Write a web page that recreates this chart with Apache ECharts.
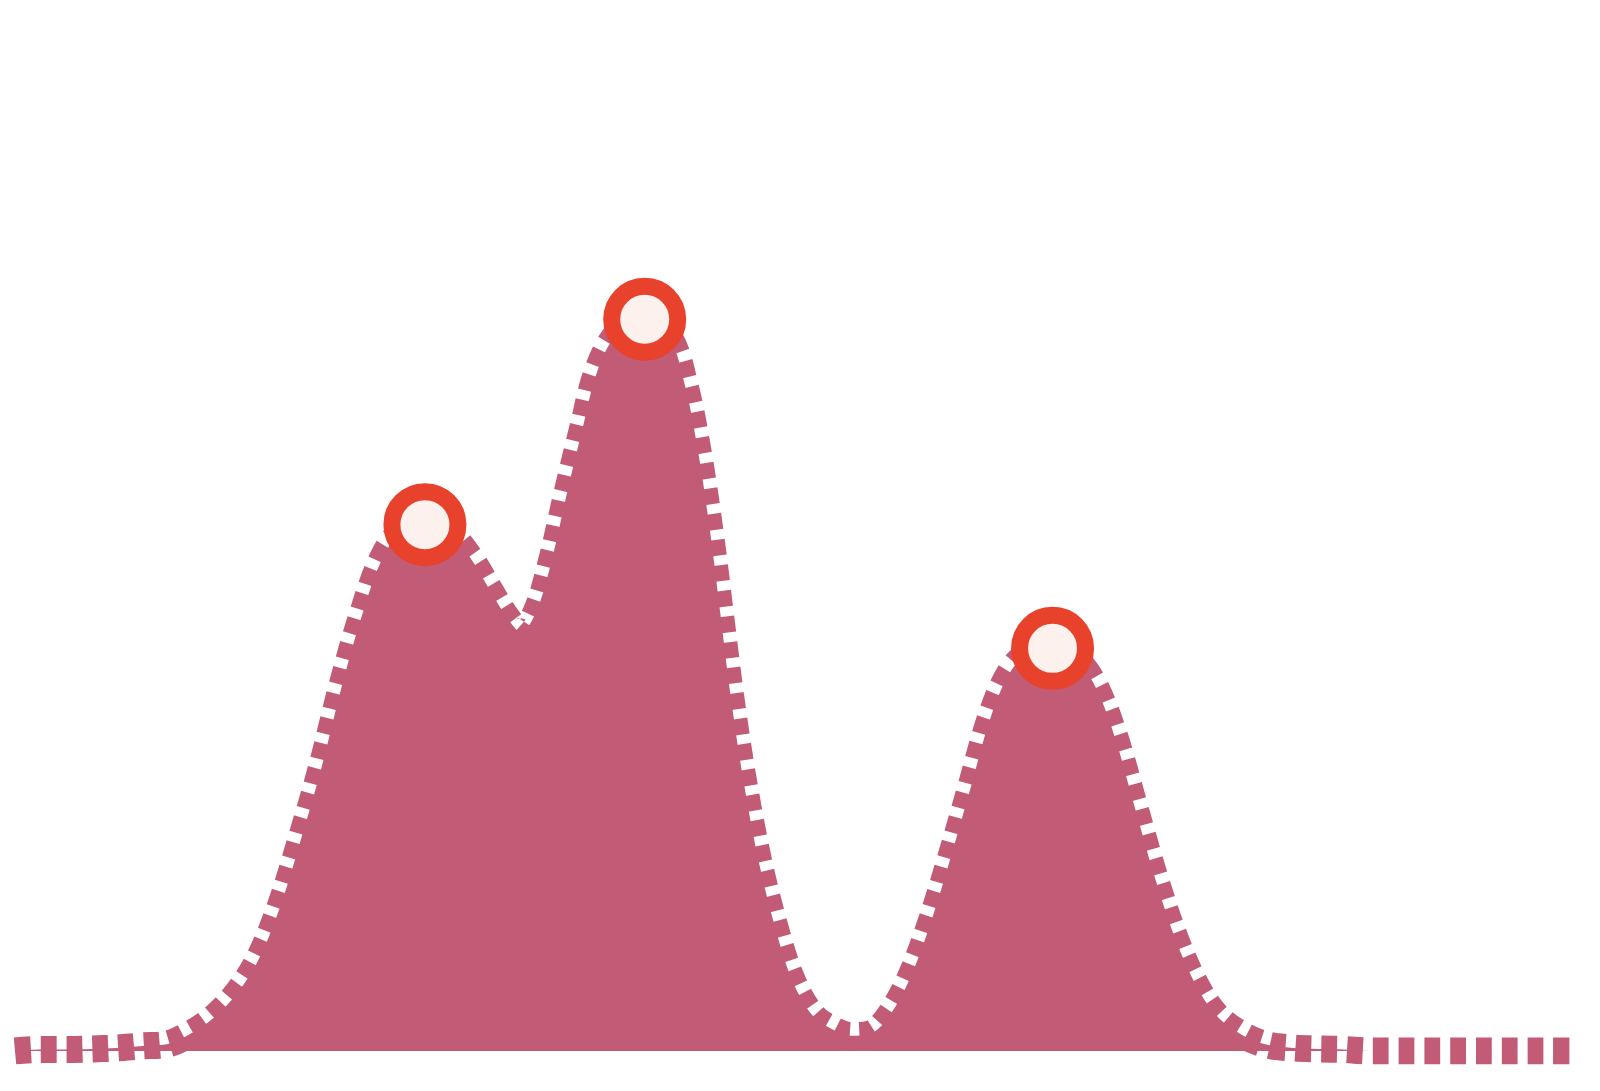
<!DOCTYPE html>
<html>
<head>
<meta charset="utf-8">
<script src="https://cdn.jsdelivr.net/npm/echarts@6/dist/echarts.min.js"></script>
<style>
  html, body { margin: 0; padding: 0; background: #fff; }
  #chart { width: 1600px; height: 1091px; }
</style>
</head>
<body>
<div id="chart"></div>
<script>
// curve samples
const xs = [0, 25, 50, 75, 100, 125, 145, 170, 195, 220, 240, 260, 280, 300, 320, 340, 360, 380, 401,
    425, 445, 465, 482, 495, 510, 525, 540, 555, 570, 590, 616,
    640, 655, 668, 680, 690, 700, 712, 727, 743, 760, 780, 800, 818, 837, 855, 875, 895, 915, 935, 955, 975, 995, 1015,
    1035, 1055, 1075, 1095, 1115, 1135, 1155, 1175, 1200, 1225, 1250, 1275, 1300, 1325,
    1350, 1375, 1400, 1425, 1450, 1475, 1500, 1530];
const ys = [0, 0.15, 0.15, 0.2, 0.3, 0.5, 0.6, 1.6, 3.3, 6.0, 9.3, 14.3, 20.8, 27.8, 35.8, 42.8, 48.3, 51.0, 51.5,
    50.6, 48.3, 45.0, 42.3, 41.0, 43.0, 48.0, 54.6, 60.8, 66.6, 70.3, 71.6,
    69.8, 65.3, 58.8, 50.8, 42.8, 34.8, 26.8, 18.8, 12.3, 7.0, 3.5, 2.1, 1.5, 1.7, 3.4, 7.0, 12.3, 18.8, 25.8, 32.8, 37.3, 39.1, 39.4,
    38.6, 36.0, 31.0, 24.0, 17.0, 11.0, 6.5, 3.5, 1.6, 0.6, 0.3, 0.2, 0.15, 0,
    0, 0, 0, 0, 0, 0, 0, 0];
// x positions of the highlighted peaks
const peakXs = [401, 616, 1015];

const lineData = xs.map(function (x, i) { return [x, ys[i]]; });
const peakData = peakXs.map(function (x) { return [x, ys[xs.indexOf(x)]]; });

let chart = echarts.init(document.getElementById('chart'));

const option = {
    animation: false,
    grid: { left: 15, right: 21, top: 29, bottom: 40 },
    xAxis: { type: 'value', min: 0, max: 1530, show: false },
    yAxis: { type: 'value', min: 0, max: 100, show: false },
    series: [
        {
            type: 'line',
            data: lineData,
            smooth: 0.35,
            symbol: 'none',
            lineStyle: { color: '#c25b75', width: 27, type: [16, 9.8], cap: 'butt' },
            areaStyle: { color: '#c25b75', opacity: 1 },
            z: 2
        },
        {
            type: 'scatter',
            data: peakData,
            symbol: 'circle',
            symbolSize: 66,
            itemStyle: { color: '#fdf1ed', borderColor: '#e8412c', borderWidth: 17, opacity: 1 },
            z: 3
        }
    ]
};

chart.setOption(option);
</script>
</body>
</html>
